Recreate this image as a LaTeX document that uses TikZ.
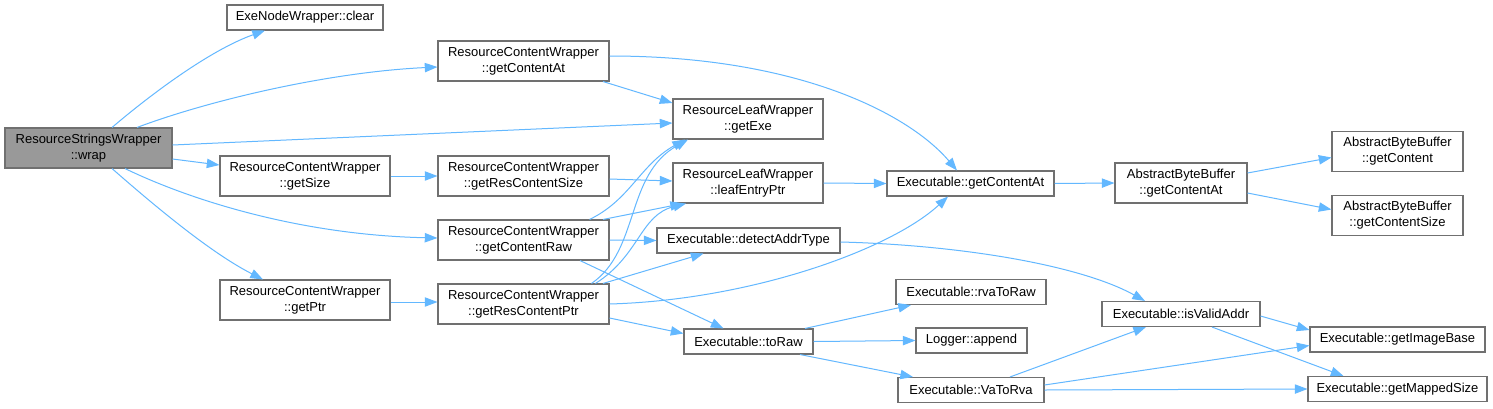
\documentclass[tikz,border=0pt]{standalone}
\usepackage{fontspec}
\setmainfont{Liberation Sans}
\usetikzlibrary{arrows.meta,calc}
\definecolor{edgeblue}{HTML}{63B8FF}
\definecolor{boxgray}{HTML}{707070}
\definecolor{rootgray}{HTML}{999999}
\begin{document}
\begin{tikzpicture}[x=0.75pt,y=-0.75pt,
  fn/.style={draw=boxgray,line width=0.8pt,fill=white,align=center,inner sep=0pt,
    font=\fontsize{9.75}{12}\selectfont},
  one/.style={minimum height=18.75pt},
  two/.style={minimum height=30pt},
  bw/.style={minimum width={#1*0.75pt}},
  link/.style={draw=edgeblue,line width=0.75pt,-{Triangle[length=9.5pt,width=7pt]}}]
\fill[white] (0,0) rectangle (1493,408);
\useasboundingbox (0,0) rectangle (1493,408);
% nodes
\node[fn,two,bw=167,fill=rootgray] (wrap) at (88.5,148) {ResourceStringsWrapper\\::wrap};
\node[fn,one,bw=156] (clear) at (305,17.5) {ExeNodeWrapper::clear};
\node[fn,two,bw=171] (rgca) at (523.5,61) {ResourceContentWrapper\\::getContentAt};
\node[fn,two,bw=170] (gsize) at (305,176) {ResourceContentWrapper\\::getSize};
\node[fn,two,bw=171] (grcs) at (523.5,176) {ResourceContentWrapper\\::getResContentSize};
\node[fn,two,bw=171] (gcraw) at (523.5,240) {ResourceContentWrapper\\::getContentRaw};
\node[fn,two,bw=170] (gptr) at (305,300) {ResourceContentWrapper\\::getPtr};
\node[fn,two,bw=171] (grcp) at (523.5,304) {ResourceContentWrapper\\::getResContentPtr};
\node[fn,two,bw=150] (gexe) at (748,119) {ResourceLeafWrapper\\::getExe};
\node[fn,two,bw=150] (lep) at (748,183) {ResourceLeafWrapper\\::leafEntryPtr};
\node[fn,one,bw=183] (dat) at (748.5,240.5) {Executable::detectAddrType};
\node[fn,one,bw=129] (toraw) at (748.5,341.5) {Executable::toRaw};
\node[fn,one,bw=167] (egca) at (970.5,183.5) {Executable::getContentAt};
\node[fn,one,bw=150] (rvaraw) at (971,292) {Executable::rvaToRaw};
\node[fn,one,bw=111] (logapp) at (971.5,340.5) {Logger::append};
\node[fn,one,bw=146] (varva) at (971,390) {Executable::VaToRva};
\node[fn,two,bw=132] (agca) at (1181,183) {AbstractByteBuffer\\::getContentAt};
\node[fn,two,bw=131] (agc) at (1397.5,151.5) {AbstractByteBuffer\\::getContent};
\node[fn,two,bw=131] (agcs) at (1397.5,215.5) {AbstractByteBuffer\\::getContentSize};
\node[fn,one,bw=158] (iva) at (1181,314) {Executable::isValidAddr};
\node[fn,one,bw=175] (gib) at (1397.5,339.5) {Executable::getImageBase};
\node[fn,one,bw=179] (gms) at (1397.5,389) {Executable::getMappedSize};
% edges
\draw[link] ($(wrap.north)+(23.5,0)$) .. controls (150,95) and (210,50) .. ($(clear.south)+(-40,0)$);
\draw[link] ($(wrap.north)+(48.5,0)$) .. controls (210,100) and (330,72) .. ($(rgca.west)+(0,6)$);
\draw[link] ($(wrap.east)+(0,-3)$) -- ($(gexe.west)+(0,4)$);
\draw[link] ($(wrap.east)+(0,11)$) -- ($(gsize.west)+(0,-11)$);
\draw[link] ($(wrap.south)+(36.5,0)$) .. controls (190,200) and (300,235) .. ($(gcraw.west)+(0,-2)$);
\draw[link] ($(wrap.south)+(23.5,0)$) .. controls (165,215) and (215,255) .. ($(gptr.north)+(-42,0)$);
\draw[link] ($(rgca.south)+(79.5,0)$) -- ($(gexe.west)+(0,-16)$);
\draw[link] ($(rgca.east)+(0,-5)$) .. controls (800,56) and (910,115) .. ($(egca.north)+(-13.5,0)$);
\draw[link] (gsize.east) -- (grcs.west);
\draw[link] ($(grcs.east)+(0,3)$) -- ($(lep.west)+(0,-2)$);
\draw[link] ($(gcraw.north)+(66,0)$) .. controls (630,200) and (640,165) .. ($(gexe.south)+(-63,0)$);
\draw[link] ($(gcraw.north)+(79.5,0)$) -- ($(lep.south)+(-65,0)$);
\draw[link] (gcraw.east) -- (dat.west);
\draw[link] ($(gcraw.south)+(56.5,0)$) -- ($(toraw.north)+(-25,0)$);
\draw[link] ($(gptr.east)+(0,2)$) -- ($(grcp.west)+(0,-2)$);
\draw[link] ($(grcp.north)+(68,0)$) .. controls (640,250) and (625,175) .. ($(gexe.south)+(-60,0)$);
\draw[link] ($(grcp.north)+(72,0)$) .. controls (640,255) and (640,215) .. ($(lep.south)+(-62,0)$);
\draw[link] ($(grcp.north)+(79.5,0)$) -- ($(dat.south)+(-45,0)$);
\draw[link] (grcp.east) .. controls (750,300) and (890,250) .. ($(egca.south)+(-22.5,0)$);
\draw[link] ($(grcp.east)+(0,14)$) -- ($(toraw.west)+(0,-8)$);
\draw[link] (lep.east) -- (egca.west);
\draw[link] ($(dat.east)+(0,1.5)$) .. controls (960,245) and (1080,265) .. ($(iva.north)+(-36,0)$);
\draw[link] ($(toraw.north)+(56.5,0)$) -- ($(rvaraw.south)+(-60,0)$);
\draw[link] (toraw.east) -- (logapp.west);
\draw[link] ($(toraw.south)+(51.5,0)$) -- ($(varva.north)+(-58,0)$);
\draw[link] (egca.east) -- (agca.west);
\draw[link] ($(agca.east)+(0,-10)$) -- ($(agc.west)+(0,6)$);
\draw[link] ($(agca.east)+(0,10)$) -- ($(agcs.west)+(0,-6)$);
\draw[link] ($(iva.east)+(0,2)$) -- ($(gib.west)+(0,-9.5)$);
\draw[link] ($(iva.south)+(31,0)$) -- ($(gms.north)+(-54,0)$);
\draw[link] ($(varva.north)+(39,0)$) -- ($(iva.south)+(-35,0)$);
\draw[link] ($(varva.east)+(0,-5)$) -- ($(gib.west)+(0,6)$);
\draw[link] (varva.east) -- (gms.west);
\end{tikzpicture}
\end{document}
